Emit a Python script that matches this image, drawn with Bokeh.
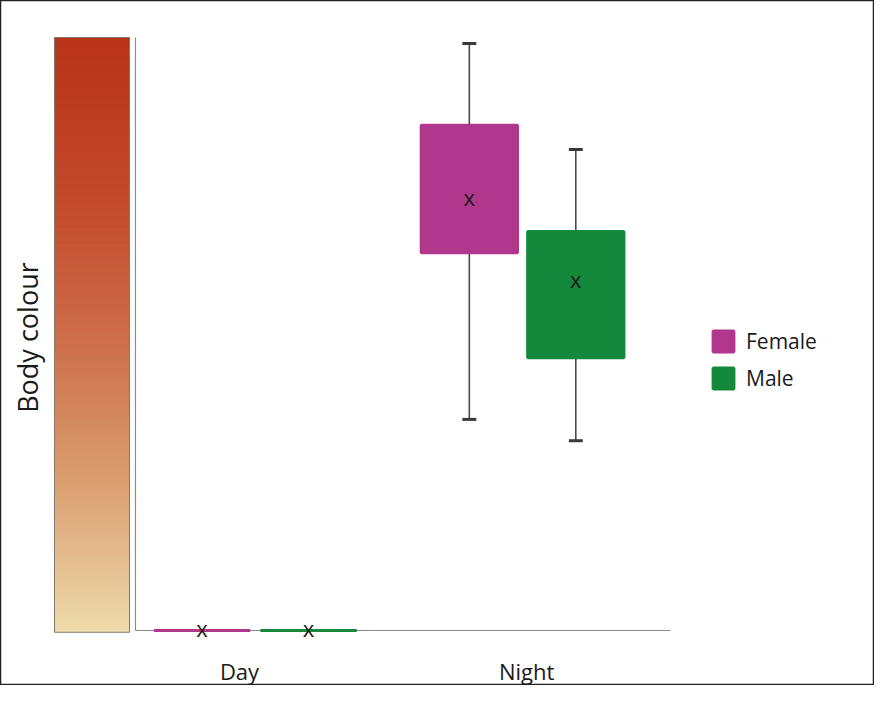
from bokeh.plotting import figure
from bokeh.models import ColumnDataSource, Range1d, Legend, LegendItem
from bokeh.core.properties import value
from bokeh.embed import file_html
from bokeh.resources import INLINE

# ---- data -------------------------------------------------------------
groups = ["Day", "Night"]
sexes = ["Female", "Male"]
colors = {"Female": "#B0378C", "Male": "#14893B"}

# per sex, per group (Day, Night)
whisker_high = {"Female": [0.0, 99.0], "Male": [0.0, 81.1]}
q3 = {"Female": [0.0, 85.2], "Male": [0.0, 67.3]}
mean = {"Female": [0.0, 72.7], "Male": [0.0, 59.0]}
q1 = {"Female": [0.0, 63.7], "Male": [0.0, 46.0]}
whisker_low = {"Female": [0.0, 35.6], "Male": [0.0, 32.0]}

axis_label = "Body colour"
gradient_pos = [0.0, 0.10, 0.27, 0.50, 0.74, 1.0]
gradient_cols = ["#EEDCAC", "#E6C293", "#D99A6E", "#CC6C4A", "#C2482A", "#B8331A"]

# ---- layout constants ---------------------------------------------------
W, H = 874, 685
group_pos = [2.24, 7.235]
label_pos = [1.944, 7.31]
dodge = {"Female": -0.995, "Male": 0.995}
box_w = 1.8
cap_hw = 0.13
y_top = 100.0

p = figure(width=W, height=H, output_backend="svg", toolbar_location=None,
           x_range=Range1d(-2.523, 13.813), y_range=Range1d(-9.275, 106.24),
           min_border=0, x_axis_location=None, y_axis_location=None)
p.xgrid.visible = False
p.ygrid.visible = False
p.outline_line_color = "#222222"
p.outline_line_width = 1.5
p.background_fill_color = "white"
p.border_fill_color = "white"


def hex2rgb(h):
    return tuple(int(h[i:i + 2], 16) for i in (1, 3, 5))


def interp(t):
    for k in range(len(gradient_pos) - 1):
        if gradient_pos[k] <= t <= gradient_pos[k + 1]:
            a, b = hex2rgb(gradient_cols[k]), hex2rgb(gradient_cols[k + 1])
            f = (t - gradient_pos[k]) / (gradient_pos[k + 1] - gradient_pos[k])
            return "#%02x%02x%02x" % tuple(int(round(a[j] + (b[j] - a[j]) * f)) for j in range(3))
    return gradient_cols[-1]


# ---- gradient colour bar -------------------------------------------------
N = 150
gx0, gx1 = -1.514, -0.112
gy0, gy1 = -0.3, y_top
tops, bottoms, cols = [], [], []
for i in range(N):
    t = (i + 0.5) / N
    cols.append(interp(t))
    bottoms.append(gy0 + (gy1 - gy0) * i / N)
    tops.append(min(gy0 + (gy1 - gy0) * (i + 1) / N + 0.5, gy1))
p.quad(left=gx0, right=gx1, bottom=bottoms, top=tops, fill_color=cols, line_color=None)
p.quad(left=gx0, right=gx1, bottom=gy0, top=gy1, fill_color=None,
       line_color="#85796b", line_width=1)

# ---- axis lines ------------------------------------------------------------
p.segment(x0=[0, 0], y0=[0, 0], x1=[0, 10], y1=[y_top, 0], line_color="#8c8c8c", line_width=1.2)

# ---- boxes -----------------------------------------------------------------
legend_items = []
for s in sexes:
    xs = [g + dodge[s] for g in group_pos]
    src = ColumnDataSource(dict(
        x=xs, left=[x - box_w / 2 for x in xs], right=[x + box_w / 2 for x in xs],
        q1=q1[s], q3=q3[s], mean=mean[s]))
    keep = [h > l for h, l in zip(whisker_high[s], whisker_low[s])]
    wx = [x for x, k in zip(xs, keep) if k]
    wsrc = ColumnDataSource(dict(
        x=wx,
        q1=[v for v, k in zip(q1[s], keep) if k],
        q3=[v for v, k in zip(q3[s], keep) if k],
        hi=[v for v, k in zip(whisker_high[s], keep) if k],
        lo=[v for v, k in zip(whisker_low[s], keep) if k],
        cl=[x - cap_hw for x in wx], cr=[x + cap_hw for x in wx]))
    p.segment(x0="x", x1="x", y0="q3", y1="hi", source=wsrc, line_color="#4a4a4a", line_width=1.6)
    p.segment(x0="x", x1="x", y0="q1", y1="lo", source=wsrc, line_color="#4a4a4a", line_width=1.6)
    p.segment(x0="cl", x1="cr", y0="hi", y1="hi", source=wsrc, line_color="#3a3a3a", line_width=3)
    p.segment(x0="cl", x1="cr", y0="lo", y1="lo", source=wsrc, line_color="#3a3a3a", line_width=3)
    r = p.quad(left="left", right="right", bottom="q1", top="q3", source=src,
               fill_color=colors[s], line_color=colors[s], line_width=3)
    p.text(x="x", y="mean", text=value("x"), source=src, text_font=value("Open Sans"),
           text_font_size="22px", text_color="#1a1a1a", text_align="center",
           text_baseline="middle", y_offset=-2)
    legend_items.append(LegendItem(label=s, renderers=[r]))

# ---- texts -----------------------------------------------------------------
p.text(x=label_pos, y=[-6.75, -6.75], text=groups, text_font=value("Open Sans"),
       text_font_size="22px", text_color="#1a1a1a", text_align="center", text_baseline="middle")
p.text(x=[-2.02], y=[49.4], text=[axis_label], angle=1.5708, text_font=value("Open Sans"),
       text_font_size="27px", text_color="#1a1a1a", text_align="center", text_baseline="middle")

legend = Legend(items=legend_items, location=(710, 293), glyph_width=26, glyph_height=26,
                label_text_font="Open Sans", label_text_font_size="21px", label_text_color="#1a1a1a",
                spacing=9, padding=0, margin=0, label_standoff=10, border_line_color=None,
                background_fill_alpha=0, label_height=26)
p.add_layout(legend)

open("out.html", "w").write(file_html(p, INLINE))
